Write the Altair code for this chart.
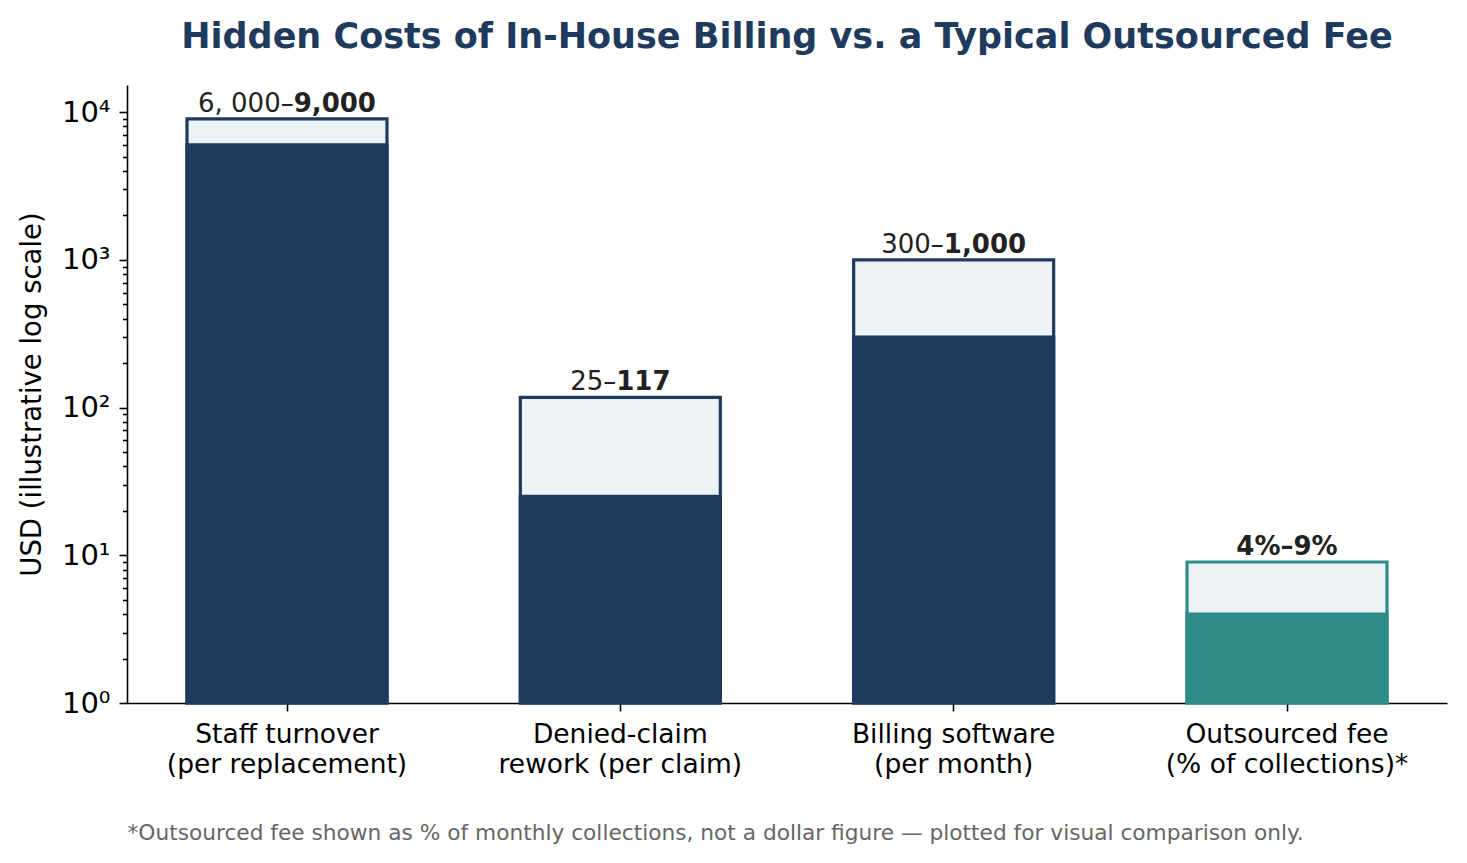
import altair as alt
import pandas as pd

categories = [
    "Staff turnover|(per replacement)",
    "Denied-claim|rework (per claim)",
    "Billing software|(per month)",
    "Outsourced fee|(% of collections)*",
]
low_values = [6000, 25, 300, 4]
high_values = [9000, 117, 1000, 9]
groups = ["In-house", "In-house", "In-house", "Outsourced"]
label_plain = ["6, 000–", "25–", "300–", ""]
label_bold = ["9,000", "117", "1,000", "4%–9%"]
major_ticks = [1, 10, 100, 1000, 10000]
minor_steps = [2, 3, 4, 5, 6, 7, 8, 9]

NAVY = "#1e3a5c"
TEAL = "#2e8b89"
LIGHT = "#edf2f7"
FONT = "DejaVu Sans"
FOOTNOTE = ("*Outsourced fee shown as % of monthly collections, not a dollar figure "
            "— plotted for visual comparison only.")

tick_values = sorted(major_ticks + [m * s for m in major_ticks[:-1] for s in minor_steps])

df = pd.DataFrame({
    "cat": categories,
    "low": low_values,
    "high": high_values,
    "group": groups,
    "plain": label_plain,
    "bold": label_bold,
})

major_list = "[" + ",".join(str(v) for v in major_ticks) + "]"
is_major = f"indexof({major_list}, datum.value) >= 0"
sup = "['⁰','¹','²','³','⁴']"

yscale = alt.Scale(type="log", domain=[1, 15240], nice=False)
cscale = alt.Scale(domain=["In-house", "Outsourced"], range=[NAVY, TEAL])

x_enc = alt.X(
    "cat:N",
    sort=categories,
    scale=alt.Scale(paddingInner=0.4, paddingOuter=0.18),
    axis=alt.Axis(
        labelExpr="split(datum.label, '|')",
        labelAngle=0,
        labelLimit=0,
        labelFont=FONT,
        labelFontSize=26.5,
        labelLineHeight=30,
        labelColor="black",
        labelPadding=10,
        tickSize=8,
        tickWidth=1.6,
        tickColor="black",
        domainColor="black",
        domainWidth=1.6,
        title=FOOTNOTE,
        titleFont=FONT,
        titleFontSize=21.7,
        titleFontWeight="normal",
        titleColor="#666666",
        titleAnchor="start",
        titleAlign="left",
        titlePadding=45,
    ),
)

y_axis = alt.Axis(
    values=tick_values,
    labelExpr=f"{is_major} ? '10' + {sup}[indexof({major_list}, datum.value)] : ''",
    labelOverlap=False,
    labelFlush=False,
    tickSize={"condition": {"test": is_major, "value": 8}, "value": 4.5},
    tickWidth=1.6,
    tickColor="black",
    domainColor="black",
    domainWidth=1.6,
    grid=False,
    labelFont=FONT,
    labelFontSize=29,
    labelColor="black",
    labelPadding=9,
    title="USD (illustrative log scale)",
    titleFont=FONT,
    titleFontSize=27.5,
    titleFontWeight="normal",
    titleColor="black",
    titlePadding=15,
)

base = alt.Chart(df).encode(x=x_enc)

outer = base.mark_bar(fill=LIGHT, strokeWidth=3.2).encode(
    y=alt.Y("high:Q", scale=yscale, axis=y_axis),
    y2=alt.datum(1),
    stroke=alt.Color("group:N", scale=cscale, legend=None),
)

inner = base.mark_bar(strokeWidth=3.2).encode(
    y=alt.Y("low:Q", scale=yscale),
    y2=alt.datum(1),
    color=alt.Color("group:N", scale=cscale, legend=None),
    stroke=alt.Color("group:N", scale=cscale, legend=None),
)

F = 26


def count(field, cls):
    return f"length(replace(datum.{field}, regexp('[^{cls}]', 'g'), ''))"


w_plain = (f"{F}*(0.636*{count('plain', '0-9')} + 0.318*{count('plain', ', ')}"
           f" + 0.5*{count('plain', '–')} + 1.0*{count('plain', '%')})")
w_bold = (f"{F}*(0.696*{count('bold', '0-9')} + 0.38*{count('bold', ', ')}"
          f" + 0.5*{count('bold', '–')} + 1.002*{count('bold', '%')})")

labels_base = base.transform_calculate(
    wp=w_plain, wb=w_bold
).transform_calculate(off="(datum.wp - datum.wb) / 2")

text_plain = labels_base.mark_text(
    align="right", baseline="alphabetic", dy=-7, fontSize=F, font=FONT,
    color="#222222", dx=alt.expr("datum.off"),
).encode(y=alt.Y("high:Q", scale=yscale), text="plain:N")

text_bold = labels_base.mark_text(
    align="left", baseline="alphabetic", dy=-7, fontSize=F, font=FONT,
    fontWeight="bold", color="#222222", dx=alt.expr("datum.off"),
).encode(y=alt.Y("high:Q", scale=yscale), text="bold:N")

chart = (
    alt.layer(outer, inner, text_plain, text_bold)
    .properties(
        width=1320,
        height=618,
        background="white",
        title=alt.TitleParams(
            "Hidden Costs of In-House Billing vs. a Typical Outsourced Fee",
            font=FONT,
            fontSize=35,
            fontWeight="bold",
            color=NAVY,
            anchor="middle",
            baseline="alphabetic",
            offset=2,
        ),
        autosize=alt.AutoSizeParams(type="none"),
        padding={"left": 119, "top": 77, "right": 12, "bottom": 152},
    )
    .configure_view(strokeWidth=0, stroke="transparent")
)

chart.save("out.html", embed_options={"renderer": "svg", "actions": False})
